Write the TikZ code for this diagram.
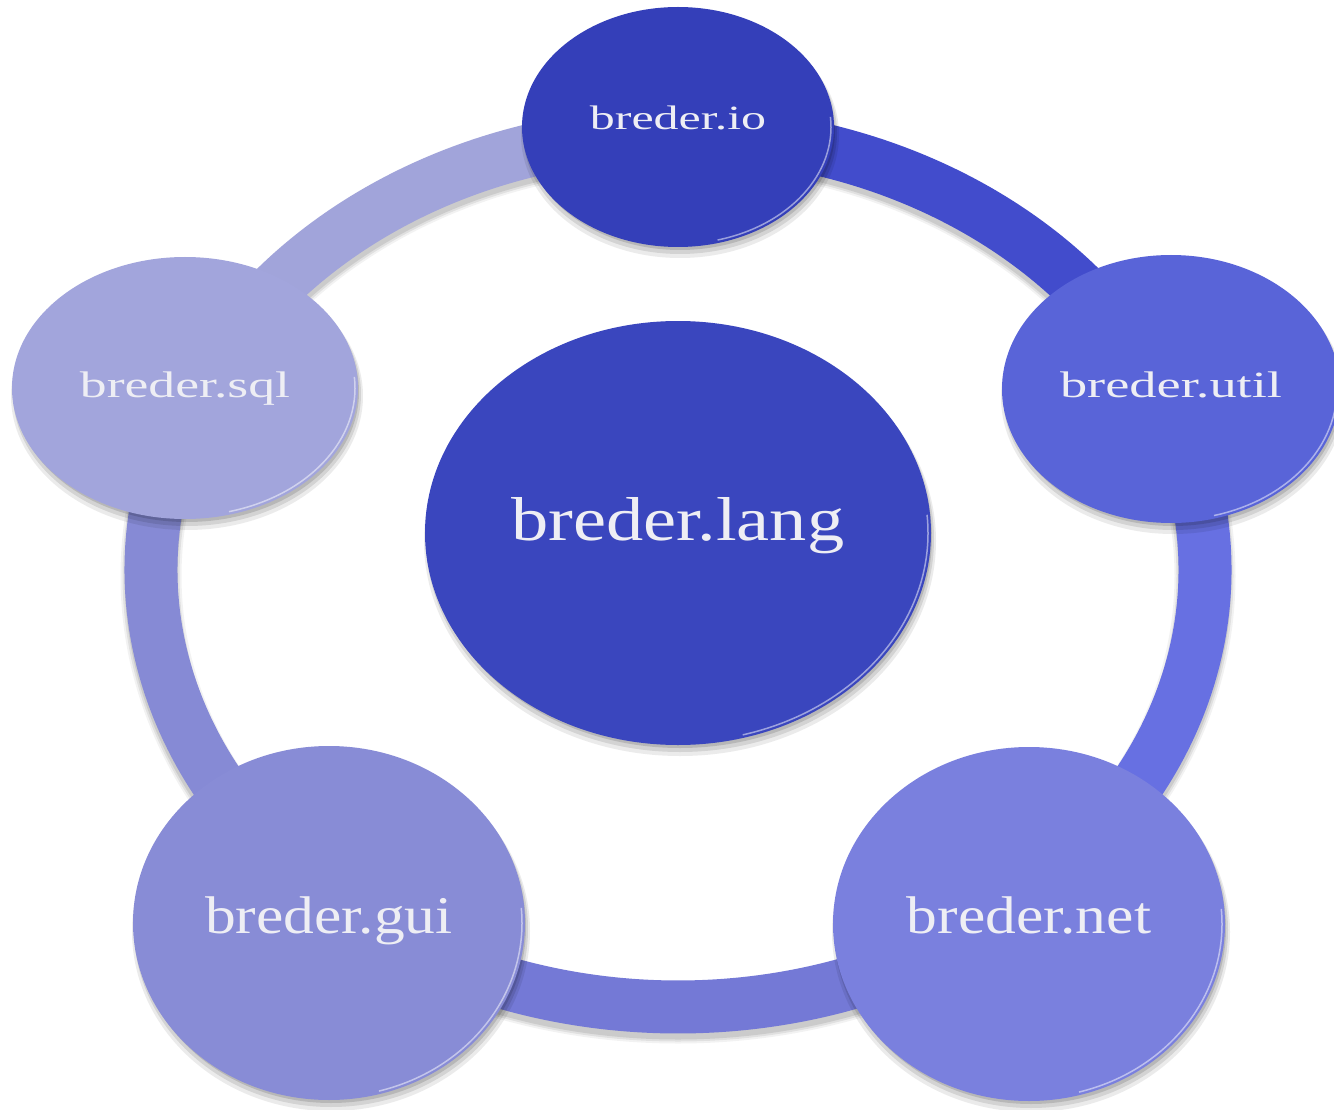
\documentclass[tikz,border=0pt]{standalone}
\usepackage{fontspec}
\usepackage{graphicx}
\setmainfont{Liberation Serif}
\usetikzlibrary{shapes.geometric}

% disc fills
\definecolor{cio}{HTML}{343FB9}
\definecolor{clang}{HTML}{3A46BE}
\definecolor{cutil}{HTML}{5964D8}
\definecolor{cnet}{HTML}{7A80DE}
\definecolor{cgui}{HTML}{888CD6}
\definecolor{csql}{HTML}{A2A5DC}
% ring segment fills
\definecolor{rioutil}{HTML}{424CCC}
\definecolor{rutilnet}{HTML}{6770E2}
\definecolor{rnetgui}{HTML}{7479D6}
\definecolor{rguisql}{HTML}{868AD5}
\definecolor{rsqlio}{HTML}{A1A4DA}
\definecolor{labelc}{HTML}{EEEEF4}

% soft drop shadow beneath a disc: x, y, x radius, y radius
\newcommand{\discshadow}[4]{%
  \foreach \g/\s/\o in {3/8/0.08,1/6/0.10,-1/4/0.13}{
    \fill[black,opacity=\o] (#1+2,#2-\s) ellipse[x radius=#3+\g, y radius=#4+\g];
  }%
}
% light rim along the lower right edge of a disc
\newcommand{\discrim}[4]{%
  \draw[white,opacity=0.5,line width=1.5pt]
    (#1,#2) ++(-75:#3-3 and #4-3)
    arc[start angle=-75,end angle=5,x radius=#3-3,y radius=#4-3];
}

\tikzset{
  disc/.style={ellipse,inner sep=0pt,outer sep=0pt,text=labelc},
  seg/.style={line width=53pt,line cap=butt},
}

\begin{document}
\begin{tikzpicture}[x=1pt,y=1pt]
\useasboundingbox (0,0) rectangle (1334,-1110);
\fill[white] (0,0) rectangle (1334,-1110);

% ring
\coordinate (ring) at (678,-570);
\foreach \w/\o in {61/0.05,57/0.07,53/0.09}{
  \draw[line width=\w pt,black,opacity=\o] ([yshift=-6pt]ring) ellipse[x radius=527,y radius=437];
}
\draw[seg,rsqlio]   (ring) ++(90:527 and 437)  arc[start angle=90, end angle=157,x radius=527,y radius=437];
\draw[seg,rguisql]  (ring) ++(157:527 and 437) arc[start angle=157,end angle=231,x radius=527,y radius=437];
\draw[seg,rnetgui]  (ring) ++(231:527 and 437) arc[start angle=231,end angle=309,x radius=527,y radius=437];
\draw[seg,rutilnet] (ring) ++(309:527 and 437) arc[start angle=309,end angle=383,x radius=527,y radius=437];
\draw[seg,rioutil]  (ring) ++(23:527 and 437)  arc[start angle=23, end angle=90, x radius=527,y radius=437];

% breder.io
\discshadow{678}{-127}{156}{120}
\node[disc,fill=cio,minimum width=312pt,minimum height=240pt,text height=6pt,text depth=0pt]
  (io) at (678,-127) {\fontsize{34}{40}\selectfont\scalebox{1.47}[1]{breder.io}};
\discrim{678}{-127}{156}{120}

% breder.sql
\discshadow{185}{-388}{173}{131}
\node[disc,fill=csql,minimum width=346pt,minimum height=262pt,text height=18pt,text depth=0pt]
  (sql) at (185,-388) {\fontsize{37}{42}\selectfont\scalebox{1.45}[1]{breder.sql}};
\discrim{185}{-388}{173}{131}

% breder.util
\discshadow{1171}{-389}{169}{134}
\node[disc,fill=cutil,minimum width=338pt,minimum height=268pt,text height=16pt,text depth=0pt]
  (util) at (1171,-389) {\fontsize{37}{42}\selectfont\scalebox{1.47}[1]{breder.util}};
\discrim{1171}{-389}{169}{134}

% breder.gui
\discshadow{329}{-923}{196}{177}
\node[disc,fill=cgui,minimum width=392pt,minimum height=354pt,text height=20pt,text depth=0pt]
  (gui) at (329,-923) {\fontsize{53}{60}\selectfont\scalebox{1.16}[1]{breder.gui}};
\discrim{329}{-923}{196}{177}

% breder.net
\discshadow{1029}{-924}{196}{177}
\node[disc,fill=cnet,minimum width=392pt,minimum height=354pt,text height=18pt,text depth=0pt]
  (net) at (1029,-924) {\fontsize{53}{60}\selectfont\scalebox{1.16}[1]{breder.net}};
\discrim{1029}{-924}{196}{177}

% breder.lang
\discshadow{678}{-533}{253}{212}
\node[disc,fill=clang,minimum width=506pt,minimum height=424pt,text height=14pt,text depth=0pt]
  (lang) at (678,-533) {\fontsize{62}{70}\selectfont\scalebox{1.2}[1]{breder.lang}};
\discrim{678}{-533}{253}{212}
\end{tikzpicture}
\end{document}
